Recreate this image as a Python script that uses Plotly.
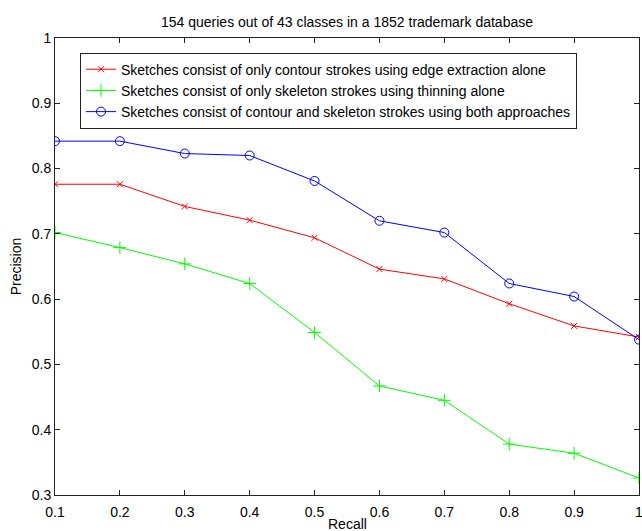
import plotly.graph_objects as go

recall = [0.1, 0.2, 0.3, 0.4, 0.5, 0.6, 0.7, 0.8, 0.9, 1.0]
contour_only = [0.776, 0.776, 0.742, 0.721, 0.694, 0.646, 0.631, 0.593, 0.559, 0.542]
skeleton_only = [0.702, 0.679, 0.654, 0.624, 0.549, 0.467, 0.445, 0.378, 0.364, 0.326]
both = [0.842, 0.842, 0.823, 0.820, 0.781, 0.720, 0.702, 0.624, 0.604, 0.538]

names = [
    "Sketches consist of only contour strokes using edge extraction alone",
    "Sketches consist of only skeleton strokes using thinning alone",
    "Sketches consist of contour and skeleton strokes using both approaches",
]
title = "154 queries out of 43 classes in a 1852 trademark database"
x_title = "Recall"
y_title = "Precision"
x_ticks = [0.1, 0.2, 0.3, 0.4, 0.5, 0.6, 0.7, 0.8, 0.9, 1.0]
x_ticktext = ["0.1", "0.2", "0.3", "0.4", "0.5", "0.6", "0.7", "0.8", "0.9", "1"]
y_ticks = [0.3, 0.4, 0.5, 0.6, 0.7, 0.8, 0.9, 1.0]
y_ticktext = ["0.3", "0.4", "0.5", "0.6", "0.7", "0.8", "0.9", "1"]

FONT = "Liberation Sans, Arial, sans-serif"
FS = 14

fig = go.Figure()
fig.add_trace(go.Scatter(x=recall, y=contour_only, mode="lines+markers", name=names[0],
                         line=dict(color="#ff0000", width=1),
                         marker=dict(symbol="x-thin-open", size=6, color="#ff0000",
                                     line=dict(color="#ff0000", width=1))))
fig.add_trace(go.Scatter(x=recall, y=skeleton_only, mode="lines+markers", name=names[1],
                         line=dict(color="#00ff00", width=1),
                         marker=dict(symbol="cross-thin-open", size=9, color="#00ff00",
                                     line=dict(color="#00ff00", width=1))))
fig.add_trace(go.Scatter(x=recall, y=both, mode="lines+markers", name=names[2],
                         line=dict(color="#0000ff", width=1),
                         marker=dict(symbol="circle-open", size=9, color="#0000ff",
                                     line=dict(color="#0000ff", width=1))))

axis_common = dict(showgrid=False, zeroline=False, showline=True, linecolor="#222222",
                   linewidth=1, mirror="ticks", ticks="inside", ticklen=5,
                   tickcolor="#222222", tickfont=dict(family=FONT, size=FS, color="black"),
                   ticklabeloverflow="allow", automargin=False)

fig.update_layout(
    width=642, height=531,
    margin=dict(l=55, r=3, t=38, b=36),
    paper_bgcolor="white", plot_bgcolor="white",
    title=dict(text=title, x=347 / 642, xanchor="center", y=1 - 22 / 531, yanchor="middle",
               font=dict(family=FONT, size=FS, color="black")),
    xaxis=dict(range=[0.1, 1.0], tickvals=x_ticks, ticktext=x_ticktext, ticklabelstandoff=4,
               **axis_common),
    yaxis=dict(range=[0.3, 1.0], tickvals=y_ticks, ticktext=y_ticktext,
               title=dict(text=y_title, font=dict(family=FONT, size=FS, color="black"), standoff=6),
               **axis_common),
    legend=dict(x=0.0428, y=0.968, xanchor="left", yanchor="top",
                bgcolor="white", bordercolor="#222222", borderwidth=1,
                font=dict(family=FONT, size=FS, color="black"), tracegroupgap=0),
    showlegend=True,
)
fig.add_annotation(text=x_title, xref="paper", yref="paper", x=0.5, y=0,
                   xanchor="center", yanchor="top", yshift=-19, showarrow=False,
                   font=dict(family=FONT, size=FS, color="black"))

fig.write_html("out.html", config={"displayModeBar": False},
               post_script="document.body.style.margin='0';document.body.style.overflow='hidden';")
